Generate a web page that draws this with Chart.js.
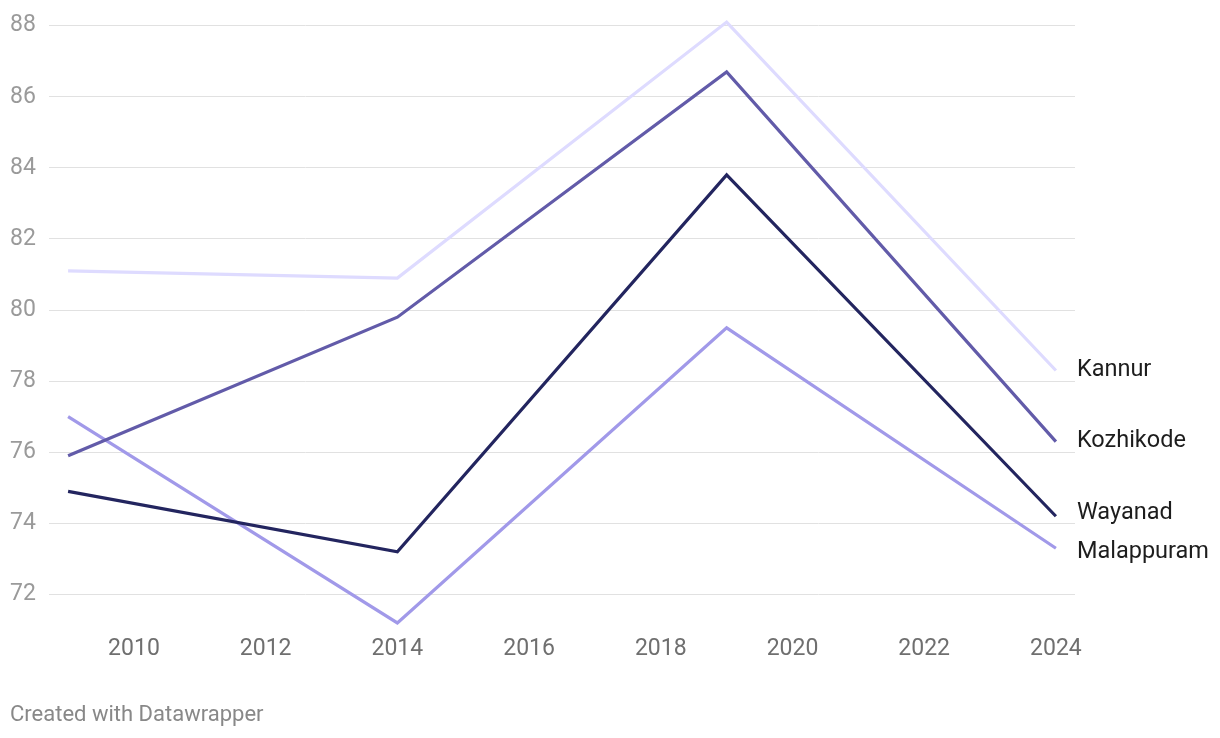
<!DOCTYPE html>
<html>
<head>
<meta charset="utf-8">
<script src="https://cdn.jsdelivr.net/npm/chart.js@4"></script>
<style>
  body { margin: 0; background: #fff; }
  #wrap { position: relative; width: 1220px; height: 738px; }
</style>
</head>
<body>
<div id="wrap"><canvas id="chart" width="1220" height="738"></canvas></div>
<script>
var years = [2009, 2014, 2019, 2024];
var kannur = [81.1, 80.9, 88.1, 78.3];
var kozhikode = [75.9, 79.8, 86.7, 76.3];
var wayanad = [74.9, 73.2, 83.8, 74.2];
var malappuram = [77.0, 71.2, 79.5, 73.3];
var xTicks = [2010, 2012, 2014, 2016, 2018, 2020, 2022, 2024];
var yTicks = [72, 74, 76, 78, 80, 82, 84, 86, 88];

function pts(vals) {
    return years.map(function (y, i) { return { x: y, y: vals[i] }; });
}

function line(label, vals, color) {
    return {
        label: label,
        data: pts(vals),
        borderColor: color,
        backgroundColor: color,
        borderWidth: 3.2,
        pointRadius: 0,
        tension: 0
    };
}

// labels at the end of each line, nudged apart when they crowd
var endLabels = {
    id: 'endLabels',
    afterDatasetsDraw: function (chart) {
        var c = chart.ctx;
        var items = chart.data.datasets.map(function (ds, i) {
            var p = chart.getDatasetMeta(i).data[ds.data.length - 1];
            return { text: ds.label, x: p.x, y: p.y };
        });
        items.sort(function (a, b) { return a.y - b.y; });
        var gap = 39;
        for (var k = 1; k < items.length; k++) {
            var d = items[k].y - items[k - 1].y;
            if (d < gap) {
                var s = (gap - d) / 2;
                items[k - 1].y -= s;
                items[k].y += s;
            }
        }
        c.save();
        c.font = '23.5px Roboto';
        c.fillStyle = '#1d1d1d';
        c.textAlign = 'left';
        c.textBaseline = 'middle';
        items.forEach(function (it) { c.fillText(it.text, it.x + 21, it.y); });
        c.fillStyle = '#888';
        c.font = '22px Roboto';
        c.fillText('Created with Datawrapper', 10, 715);
        c.restore();
    }
};

var ctx = document.getElementById('chart').getContext('2d');
var myChart = new Chart(ctx, {
    type: 'line',
    data: {
        datasets: [
            line('Kannur', kannur, '#dedbff'),
            line('Kozhikode', kozhikode, '#625ba9'),
            line('Wayanad', wayanad, '#23255f'),
            line('Malappuram', malappuram, '#a199e9')
        ]
    },
    options: {
        responsive: false,
        animation: false,
        layout: { padding: { left: 10, right: 145, top: 15, bottom: 68 } },
        plugins: { legend: { display: false }, tooltip: { enabled: false } },
        scales: {
            x: {
                type: 'linear',
                min: 2008.71,
                max: 2024.29,
                afterBuildTicks: function (s) { s.ticks = xTicks.map(function (v) { return { value: v }; }); },
                afterFit: function (s) { s.height = 40; },
                grid: { display: false },
                border: { display: false },
                ticks: {
                    color: '#6f6f6f',
                    font: { family: 'Roboto', size: 23 },
                    padding: -3,
                    maxRotation: 0,
                    callback: function (v) { return String(v); }
                }
            },
            y: {
                min: 71,
                max: 88.3,
                afterBuildTicks: function (s) { s.ticks = yTicks.map(function (v) { return { value: v }; }); },
                afterFit: function (s) { s.width = 39; },
                grid: { color: '#e1e1e1', lineWidth: 1, drawTicks: false },
                border: { display: false },
                ticks: {
                    color: '#9a9a9a',
                    font: { family: 'Roboto', size: 23 },
                    crossAlign: 'far',
                    padding: 0
                }
            }
        }
    },
    plugins: [endLabels]
});
</script>
</body>
</html>
